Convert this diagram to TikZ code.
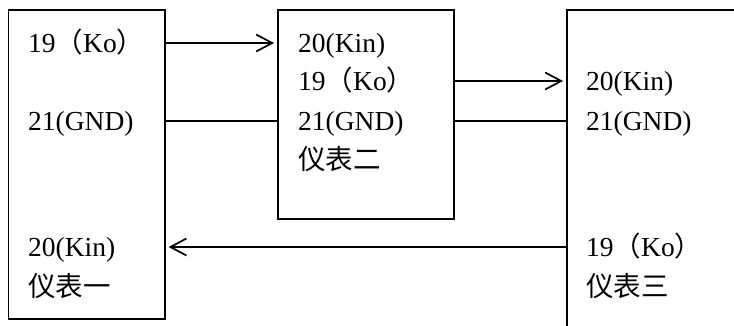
\documentclass[tikz,border=0pt]{standalone}
\usepackage{fontspec}
\setmainfont{Liberation Serif}
\newfontfamily\cjk{Noto Sans CJK SC}
\usetikzlibrary{arrows.meta}
\begin{document}
\begin{tikzpicture}[x=1pt,y=-1pt,
  box/.style={draw,line width=1.6pt,inner sep=0pt,anchor=north west},
  lbl/.style={anchor=west,inner sep=0pt,text height=18pt,text depth=0pt,font=\fontsize{27.5}{32}\selectfont},
  wire/.style={line width=1.7pt},
  sig/.style={wire,-{Straight Barb[length=16pt,width=17pt,line width=1.7pt]},shorten >=3pt}]
\useasboundingbox (0,0) rectangle (734,325);
\clip (0,0) rectangle (734,325);
\node[box,minimum width=156.5pt,minimum height=309pt] (b1) at (7.5,9) {};
\node[box,minimum width=176pt,minimum height=209pt] (b2) at (277,9) {};
\node[box,minimum width=220pt,minimum height=340pt] (b3) at (566,9) {};
% box 1
\node[lbl] (a1) at (28,43) {19{\cjk （}Ko{\cjk ）}};
\node[lbl] (a2) at (28,121) {21(GND)};
\node[lbl] (a3) at (28,247) {20(Kin)};
\node[lbl] (a4) at (28,287) {\cjk 仪表一};
% box 2
\node[lbl] (c1) at (298,43) {20(Kin)};
\node[lbl] (c2) at (298,81) {19{\cjk （}Ko{\cjk ）}};
\node[lbl] (c3) at (298,121) {21(GND)};
\node[lbl] (c4) at (298,160) {\cjk 仪表二};
% box 3
\node[lbl] (d1) at (586,81) {20(Kin)};
\node[lbl] (d2) at (586,121) {21(GND)};
\node[lbl] (d3) at (586,247) {19{\cjk （}Ko{\cjk ）}};
\node[lbl] (d4) at (586,287) {\cjk 仪表三};
% connectors
\draw[sig] (b1.east |- a1) -- (b2.west |- a1);
\draw[wire] (b1.east |- a2) -- (b2.west |- a2);
\draw[sig] (b2.east |- c2) -- (b3.west |- c2);
\draw[wire] (b2.east |- c3) -- (b3.west |- c3);
\draw[sig] (b3.west |- d3) -- (b1.east |- d3);
\end{tikzpicture}
\end{document}
